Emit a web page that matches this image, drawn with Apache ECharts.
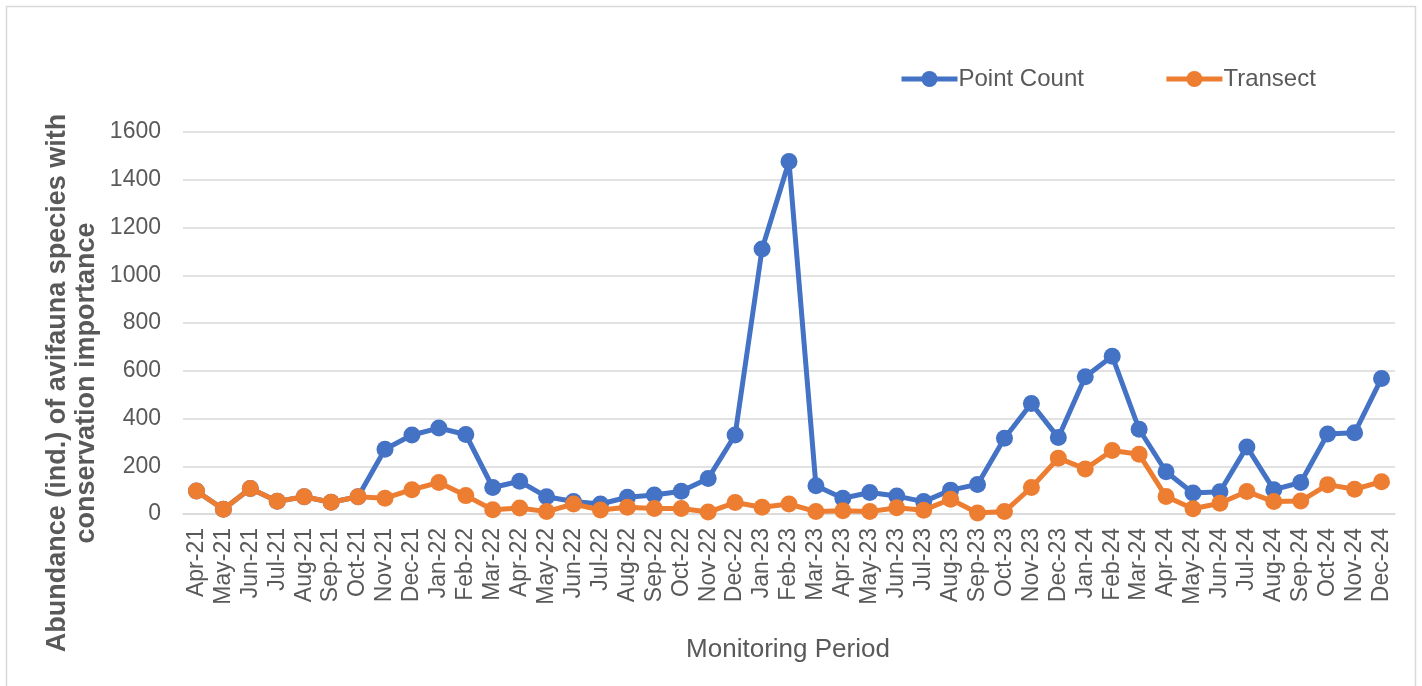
<!DOCTYPE html>
<html><head><meta charset="utf-8">
<script src="https://cdn.jsdelivr.net/npm/echarts@6/dist/echarts.min.js"></script>
<style>html,body{margin:0;padding:0;background:#fff}#c{width:1422px;height:686px}</style>
</head><body><div id="c"></div>
<script>
const categories = ["Apr-21","May-21","Jun-21","Jul-21","Aug-21","Sep-21","Oct-21","Nov-21","Dec-21",
 "Jan-22","Feb-22","Mar-22","Apr-22","May-22","Jun-22","Jul-22","Aug-22","Sep-22","Oct-22","Nov-22","Dec-22",
 "Jan-23","Feb-23","Mar-23","Apr-23","May-23","Jun-23","Jul-23","Aug-23","Sep-23","Oct-23","Nov-23","Dec-23",
 "Jan-24","Feb-24","Mar-24","Apr-24","May-24","Jun-24","Jul-24","Aug-24","Sep-24","Oct-24","Nov-24","Dec-24"];
const pointCount = [96,20,107,53,72,49,72,271,331,
 360,333,111,137,72,52,42,70,80,95,149,331,
 1110,1476,118,66,90,75,52,100,124,317,463,320,
 575,661,355,177,88,93,281,102,132,335,340,568];
const transect = [96,20,107,53,72,49,72,66,102,
 132,77,18,25,10,42,17,28,23,23,8,48,
 28,42,10,14,10,26,16,62,4,10,111,234,
 189,266,250,73,22,45,94,52,54,123,104,135];
const yTicks = {min:0, max:1600, interval:200};
const seriesNames = ["Point Count","Transect"];
const axisTitleY = ["Abundance (ind.) of avifauna species with","conservation importance"];
const axisTitleX = "Monitoring Period";

const chart = echarts.init(document.getElementById('c'), null, {renderer:'canvas'});
const font = "'Liberation Sans', Arial, sans-serif";
const grey = '#595959';
const blue = '#4472C4', orange = '#ED7D31';
chart.setOption({
  animation:false,
  backgroundColor:'#fff',
  textStyle:{fontFamily:font},
  graphic:[
    {type:'rect', shape:{x:6.5,y:6.5,width:1409,height:700}, style:{fill:'none', stroke:'#d9d9d9', lineWidth:1.5}, z:-1},
    {type:'text', x:72, y:383, rotation:Math.PI/2, style:{text:axisTitleY.join('\n'), font:"bold 27px 'Liberation Sans', Arial, sans-serif", fill:grey, align:'center', verticalAlign:'middle', lineHeight:29}},
    {type:'text', x:788, y:650, style:{text:axisTitleX, font:"26px 'Liberation Sans', Arial, sans-serif", fill:grey, align:'center', verticalAlign:'middle'}}
  ],
  legend:{
    data:[
      {name:seriesNames[0], itemStyle:{color:blue}, lineStyle:{color:blue, width:5}},
      {name:seriesNames[1], itemStyle:{color:orange}, lineStyle:{color:orange, width:5}}
    ],
    left:894, top:62, itemWidth:56, itemHeight:20, itemGap:80,
    textStyle:{fontSize:24, color:grey, fontFamily:font, padding:[0,0,0,-4]}
  },
  grid:{left:183, right:27, top:132, bottom:172, containLabel:false},
  xAxis:{
    type:'category', data:categories, boundaryGap:true,
    axisLine:{show:true, lineStyle:{color:'#d9d9d9', width:1.5}},
    axisTick:{show:false},
    axisLabel:{rotate:90, interval:0, fontSize:23, color:grey, margin:14, fontFamily:font}
  },
  yAxis:{
    type:'value', min:yTicks.min, max:yTicks.max, interval:yTicks.interval,
    axisLine:{show:false}, axisTick:{show:false},
    axisLabel:{fontSize:23, color:grey, margin:22, fontFamily:font, formatter:v=>String(v)},
    splitLine:{lineStyle:{color:'#d9d9d9', width:1.5}}
  },
  series:[
    {name:seriesNames[0], type:'line', data:pointCount, symbol:'circle', symbolSize:17,
     lineStyle:{color:blue, width:5}, itemStyle:{color:blue}, z:3},
    {name:seriesNames[1], type:'line', data:transect, symbol:'circle', symbolSize:17,
     lineStyle:{color:orange, width:5}, itemStyle:{color:orange}, z:4}
  ]
});
</script></body></html>
